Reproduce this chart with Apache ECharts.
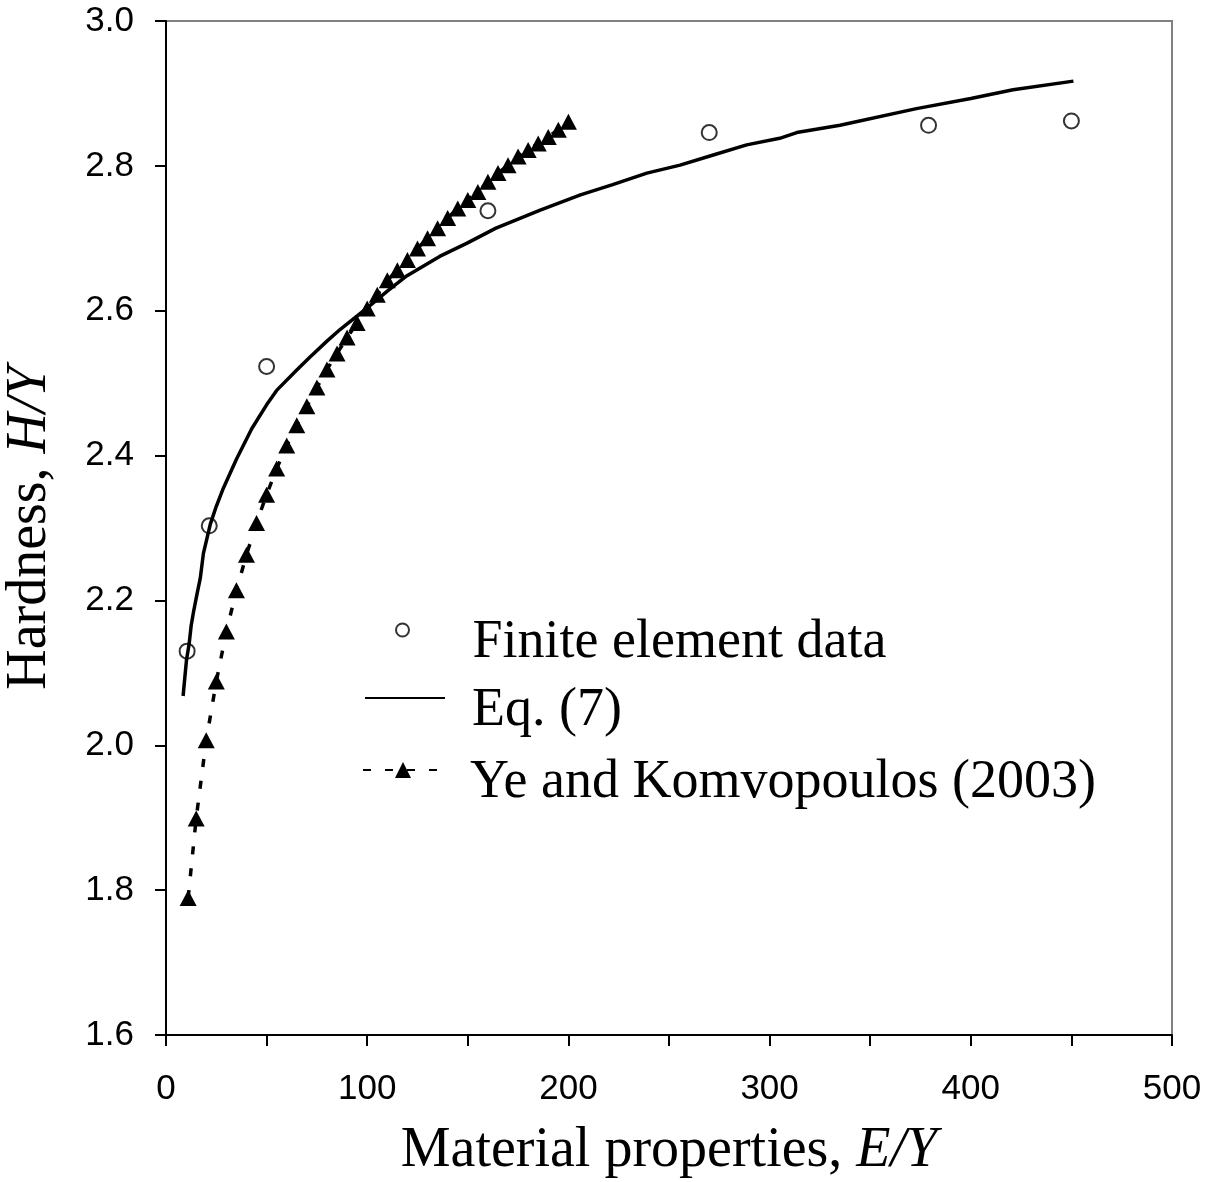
<!DOCTYPE html>
<html>
<head>
<meta charset="utf-8">
<script src="https://cdn.jsdelivr.net/npm/echarts@6/dist/echarts.min.js"></script>
<style>
  html, body { margin: 0; padding: 0; background: #fff; }
  #chart { width: 1217px; height: 1182px; }
</style>
</head>
<body>
<div id="chart"></div>
<script>
// finite element points
const feX = [10.5, 21.5, 50, 160, 270, 379, 450];
const feY = [2.130, 2.303, 2.523, 2.738, 2.846, 2.856, 2.862];

// Eq. (7) curve
const eqX = [8.5, 9.4, 10.2, 11.5, 12.5, 13.6, 15.5, 17, 18.6, 22, 25, 28.5, 35, 42.6, 50, 55, 65, 71.6, 80,
  86.5, 100, 110, 119.6, 136, 149.4, 164, 186, 206, 222, 239, 255.5, 272, 288.6, 305, 313.5, 335, 373, 400, 421, 451];
const eqY = [2.068, 2.095, 2.118, 2.14, 2.165, 2.183, 2.21, 2.23, 2.265, 2.305, 2.33, 2.355, 2.395, 2.437, 2.470, 2.490, 2.518, 2.536, 2.558,
  2.574, 2.604, 2.627, 2.648, 2.675, 2.693, 2.714, 2.739, 2.760, 2.774, 2.790, 2.801, 2.815, 2.829, 2.838, 2.846, 2.856, 2.879, 2.893, 2.905, 2.917];

// Ye and Komvopoulos (2003)
const ykX = [11, 15, 20, 25, 30, 35, 40, 45, 50, 55, 60, 65, 70, 75, 80, 85, 90, 95, 100, 105,
  110, 115, 120, 125, 130, 135, 140, 145, 150, 155, 160, 165, 170, 175, 180, 185, 190, 195, 200];
const ykY = [1.789, 1.899, 2.007, 2.088, 2.157, 2.214, 2.263, 2.307, 2.346, 2.382, 2.414, 2.442, 2.468, 2.494, 2.519, 2.541, 2.563, 2.583, 2.603, 2.622,
  2.642, 2.656, 2.670, 2.686, 2.700, 2.714, 2.728, 2.741, 2.753, 2.764, 2.778, 2.790, 2.801, 2.813, 2.822, 2.831, 2.840, 2.850, 2.861];

const seriesNames = ["Finite element data", "Eq. (7)", "Ye and Komvopoulos (2003)"];

const zip = (xs, ys) => xs.map((x, i) => [x, ys[i]]);

const chart = echarts.init(document.getElementById("chart"));

const sans = "Liberation Sans, Arial, sans-serif";
const serif = "Liberation Serif, Times New Roman, serif";

// text sits a little below its symbol, like the original legend
const legendText = (padLeft) => ({
  fontFamily: serif,
  fontSize: 54,
  color: "#000",
  lineHeight: 26,
  padding: [0, 0, 0, padLeft],
});

const legendBase = {
  orient: "vertical",
  padding: 0,
  itemWidth: 80,
  selectedMode: false,
  formatter: (name) => "\n" + name,
};

const axisName = {
  fontFamily: serif,
  fontSize: 56,
  color: "#000",
  rich: { i: { fontFamily: serif, fontSize: 56, fontStyle: "italic", color: "#000" } },
};

const options = {
  animation: false,
  backgroundColor: "#fff",
  grid: {
    left: 166,
    right: 45,
    top: 21,
    bottom: 147,
    show: true,
    borderColor: "#808080",
    borderWidth: 2,
    outerBoundsMode: "none",
  },
  legend: [
    Object.assign({}, legendBase, { data: [seriesNames[0]], left: 395, top: 590, itemHeight: 13, textStyle: legendText(25) }),
    Object.assign({}, legendBase, { data: [seriesNames[1]], left: 364, top: 658, itemHeight: 20, textStyle: legendText(22) }),
    Object.assign({}, legendBase, { data: [seriesNames[2]], left: 362, top: 730, itemHeight: 20, textStyle: legendText(22) }),
  ],
  xAxis: {
    type: "value",
    min: 0,
    max: 500,
    interval: 50,
    splitLine: { show: false },
    axisLine: { lineStyle: { color: "#000", width: 2 } },
    axisTick: { inside: false, length: 11, lineStyle: { color: "#000", width: 2 } },
    axisLabel: {
      margin: 37,
      color: "#000",
      fontFamily: sans,
      fontSize: 35,
      formatter: (v) => (v % 100 === 0 ? String(v) : ""),
    },
    name: "Material properties, {i|E/Y}",
    nameLocation: "middle",
    nameGap: 88,
    nameTextStyle: axisName,
  },
  yAxis: {
    type: "value",
    min: 1.6,
    max: 3.0,
    interval: 0.2,
    splitLine: { show: false },
    axisLine: { show: true, lineStyle: { color: "#000", width: 2 } },
    axisTick: { show: true, inside: false, length: 11, lineStyle: { color: "#000", width: 2 } },
    axisLabel: {
      margin: 32,
      color: "#000",
      fontFamily: sans,
      fontSize: 35,
      formatter: (v) => v.toFixed(1),
    },
    name: "Hardness, {i|H/Y}",
    nameLocation: "middle",
    nameRotate: 90,
    nameGap: 108,
    nameTextStyle: axisName,
  },
  series: [
    {
      name: seriesNames[0],
      type: "scatter",
      symbol: "circle",
      symbolSize: 15,
      z: 4,
      itemStyle: { color: "rgba(0,0,0,0)", borderColor: "#000", borderWidth: 2 },
      data: zip(feX, feY),
    },
    {
      name: seriesNames[1],
      type: "line",
      symbol: "none",
      smooth: false,
      lineStyle: { color: "#000", width: 3.5 },
      itemStyle: { color: "rgba(0,0,0,0)" },
      data: zip(eqX, eqY),
    },
    {
      name: seriesNames[2],
      type: "line",
      symbol: "triangle",
      symbolSize: [17, 16],
      showAllSymbol: true,
      lineStyle: { color: "#000", width: 3.5, type: [8, 14] },
      itemStyle: { color: "#000" },
      data: zip(ykX, ykY),
    },
  ],
};

chart.setOption(options);
</script>
</body>
</html>
